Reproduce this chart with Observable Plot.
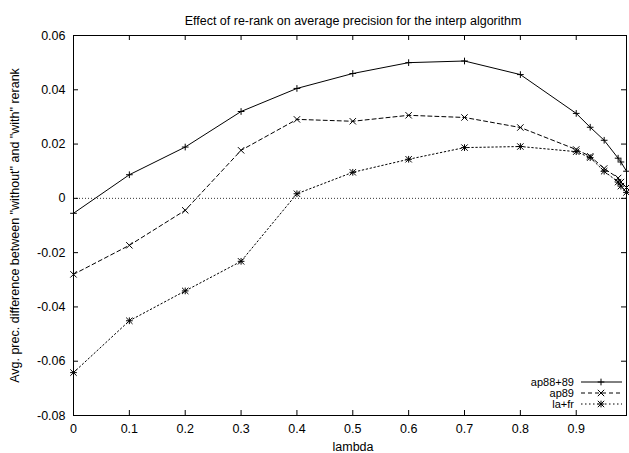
<!DOCTYPE html>
<html><head><meta charset="utf-8">
<script src="https://cdn.jsdelivr.net/npm/d3@7"></script>
<script src="https://cdn.jsdelivr.net/npm/@observablehq/plot@0.6"></script>
<style>
body{margin:0;background:#fff}
svg{font-family:"Liberation Sans",Arial,Helvetica,sans-serif}
</style>
</head><body><div id="chart"></div>
<script>
const lambdas = [0, 0.1, 0.2, 0.3, 0.4, 0.5, 0.6, 0.7, 0.8, 0.9, 0.925, 0.95, 0.975, 0.98, 0.99];
const ap8889 = [-0.0055, 0.0087, 0.0189, 0.0320, 0.0405, 0.0460, 0.0500, 0.0506, 0.0456, 0.0313, 0.0262, 0.0214, 0.0148, 0.0134, 0.0100];
const ap89 = [-0.0280, -0.0173, -0.0044, 0.0177, 0.0291, 0.0284, 0.0306, 0.0298, 0.0261, 0.0180, 0.0155, 0.0110, 0.0075, 0.0060, 0.0040];
const lafr = [-0.0642, -0.0451, -0.0341, -0.0232, 0.0017, 0.0096, 0.0144, 0.0187, 0.0191, 0.0172, 0.0150, 0.0100, 0.0060, 0.0045, 0.0022];
const seriesNames = ["ap88+89", "ap89", "la+fr"];
const xTicks = [0, 0.1, 0.2, 0.3, 0.4, 0.5, 0.6, 0.7, 0.8, 0.9];
const xTickLabels = ["0", "0.1", "0.2", "0.3", "0.4", "0.5", "0.6", "0.7", "0.8", "0.9"];
const yTicks = [-0.08, -0.06, -0.04, -0.02, 0, 0.02, 0.04, 0.06];
const yTickLabels = ["-0.08", "-0.06", "-0.04", "-0.02", "0", "0.02", "0.04", "0.06"];
const titleText = "Effect of re-rank on average precision for the interp algorithm";
const xLabel = "lambda";
const yLabel = "Avg. prec. difference between \"without\" and \"with\" rerank";

const seriesValues = [ap8889, ap89, lafr];
const rows = seriesNames.flatMap((s, k) => lambdas.map((l, i) => ({series: s, lambda: l, value: seriesValues[k][i]})));

const W = 629, H = 453;
const mL = 73, mR = 3, mT = 35, mB = 38;
const innerW = W - mL - mR, innerH = H - mT - mB;
const FONT = "Liberation Sans, Arial, Helvetica, sans-serif";
const FS = 12.5;
const dashes = {"ap88+89": null, "ap89": "4,3", "la+fr": "1.5,2.5"};
const tickLen = 5;

const marks = [
  Plot.ruleY([0], {stroke: "#000", strokeWidth: 0.8, strokeDasharray: "1,2"}),
];
for (const s of seriesNames) {
  const d = rows.filter(r => r.series === s);
  marks.push(Plot.line(d, {x: "lambda", y: "value", stroke: "#000", strokeWidth: 1, strokeDasharray: dashes[s]}));
}
const pr = 2.3, tr = 3.0;
marks.push(Plot.dot(rows.filter(r => r.series === "ap88+89"), {x: "lambda", y: "value", symbol: "plus", r: pr, stroke: "#000", strokeWidth: 1}));
marks.push(Plot.dot(rows.filter(r => r.series === "ap89"), {x: "lambda", y: "value", symbol: "times", r: tr, stroke: "#000", strokeWidth: 1}));
marks.push(Plot.dot(rows.filter(r => r.series === "la+fr"), {x: "lambda", y: "value", symbol: "plus", r: pr, stroke: "#000", strokeWidth: 1}));
marks.push(Plot.dot(rows.filter(r => r.series === "la+fr"), {x: "lambda", y: "value", symbol: "times", r: tr, stroke: "#000", strokeWidth: 1}));

// inward ticks on all four sides
marks.push(Plot.ruleX(xTicks, {x: d => d, stroke: "#000", insetTop: innerH - tickLen}));
marks.push(Plot.ruleX(xTicks, {x: d => d, stroke: "#000", insetBottom: innerH - tickLen}));
marks.push(Plot.ruleY(yTicks, {y: d => d, stroke: "#000", insetRight: innerW - tickLen}));
marks.push(Plot.ruleY(yTicks, {y: d => d, stroke: "#000", insetLeft: innerW - tickLen}));
marks.push(Plot.frame({stroke: "#000", strokeWidth: 1}));

// tick labels
marks.push(Plot.text(xTicks, {x: d => d, text: (d, i) => xTickLabels[i], frameAnchor: "bottom", lineAnchor: "top", dy: 9, fontSize: FS, fontFamily: FONT, fill: "#000"}));
marks.push(Plot.text(yTicks, {y: d => d, text: (d, i) => yTickLabels[i], frameAnchor: "left", textAnchor: "end", lineAnchor: "middle", dx: -8, fontSize: FS, fontFamily: FONT, fill: "#000"}));
// titles
marks.push(Plot.text([titleText], {text: d => d, frameAnchor: "top", lineAnchor: "bottom", dy: -10.5, dx: 3, fontSize: FS, fontFamily: FONT, fill: "#000"}));
marks.push(Plot.text([xLabel], {text: d => d, frameAnchor: "bottom", lineAnchor: "bottom", dy: 35, dx: 3, fontSize: FS, fontFamily: FONT, fill: "#000"}));
marks.push(Plot.text([yLabel], {text: d => d, frameAnchor: "left", textAnchor: "middle", lineAnchor: "bottom", rotate: -90, dx: -55, fontSize: FS, fontFamily: FONT, fill: "#000"}));

const chart = Plot.plot({
  width: W, height: H,
  marginLeft: mL, marginRight: mR, marginTop: mT, marginBottom: mB,
  x: {domain: [0, 0.99], axis: null},
  y: {domain: [-0.08, 0.06], axis: null},
  style: {background: "#fff", fontFamily: FONT},
  marks
});
document.getElementById("chart").appendChild(chart);

// legend (bottom right, inside the frame)
const svg = d3.select(chart);
const lg = svg.append("g").attr("font-family", FONT).attr("font-size", 11);
const textEnd = 574, lineX1 = 581, lineX2 = 622, markX = 601;
const baselines = [386, 397, 408];
const symSize = r => Math.PI * r * r;
seriesNames.forEach((s, i) => {
  const by = baselines[i], ly = by - 4;
  lg.append("text").attr("x", textEnd).attr("y", by).attr("text-anchor", "end").text(s);
  const ln = lg.append("line").attr("x1", lineX1).attr("x2", lineX2).attr("y1", ly).attr("y2", ly).attr("stroke", "#000").attr("stroke-width", 1);
  if (dashes[s]) ln.attr("stroke-dasharray", dashes[s]);
  const syms = s === "ap88+89" ? [[d3.symbolPlus, pr]] : s === "ap89" ? [[d3.symbolTimes, tr]] : [[d3.symbolPlus, pr], [d3.symbolTimes, tr]];
  for (const [sym, r] of syms) {
    lg.append("path").attr("transform", `translate(${markX},${ly})`).attr("d", d3.symbol(sym, symSize(r))()).attr("fill", "none").attr("stroke", "#000");
  }
});
</script>
</body></html>
